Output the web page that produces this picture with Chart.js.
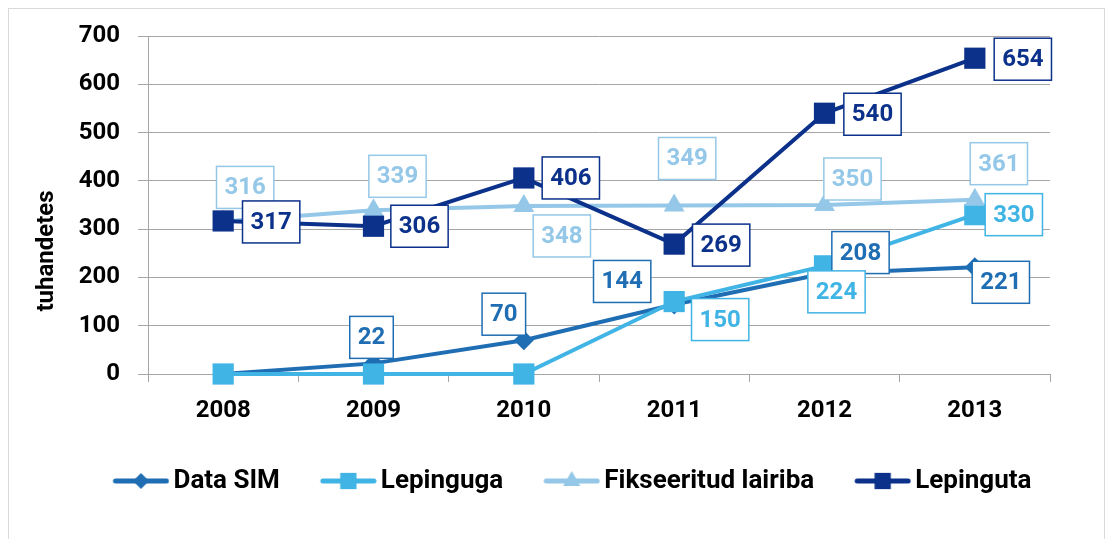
<!DOCTYPE html>
<html>
<head>
<meta charset="utf-8">
<script src="https://cdn.jsdelivr.net/npm/chart.js@4.4.0/dist/chart.umd.min.js"></script>
<style>
  html, body { margin: 0; padding: 0; background: #fff; }
  #frame { position: absolute; left: 8px; top: 8px; width: 1097px; height: 545px; border: 1px solid #d9d9d9; box-sizing: border-box; }
  #wrap { position: absolute; left: 0; top: 0; width: 1113px; height: 539px; }
</style>
</head>
<body>
<div id="frame"></div>
<div id="wrap"><canvas id="chart"></canvas></div>
<script>
// data (thousands)
const years = ["2008", "2009", "2010", "2011", "2012", "2013"];
const dataSim = [0, 22, 70, 144, 208, 221];
const lepinguga = [0, 0, 0, 150, 224, 330];
const fikseeritud = [316, 339, 348, 349, 350, 361];
const lepinguta = [317, 306, 406, 269, 540, 654];
const seriesNames = ["Data SIM", "Lepinguga", "Fikseeritud lairiba", "Lepinguta"];
const yMin = 0, yMax = 700, yStep = 100;

// where each value box sits relative to its point (px), null = no box
const simLabelPos = [null, [-2, -26], [-20, -26], [-52, -23], [36, -21], [26, 15]];
const lepingugaLabelPos = [null, null, null, [46, 18], [12, 26], [39, 0]];
const fiksLabelPos = [[22, -34], [24, -34], [38, 30], [13, -47], [28, -26], [24, -36]];
const lepingutaLabelPos = [[48, 1], [46, 0], [47, 0], [47, 1], [48, 1], [48, 1]];

const colors = ["#1f6db3", "#3fb4e5", "#95c8e8", "#0b318a"];
const FONT = "Roboto, 'Liberation Sans', sans-serif";

function makeIcon(color, style, radius) {
  const c = document.createElement("canvas");
  c.width = 64;
  c.height = 24;
  const ctx = c.getContext("2d");
  ctx.strokeStyle = color;
  ctx.lineWidth = 5;
  ctx.lineCap = "round";
  ctx.beginPath();
  ctx.moveTo(10, 12);
  ctx.lineTo(61, 12);
  ctx.stroke();
  ctx.fillStyle = color;
  Chart.helpers.drawPoint(ctx, { pointStyle: style, radius: radius, rotation: 0, borderWidth: 0 }, 35.5, 12);
  return c;
}

const datasets = [
  { label: seriesNames[0], data: dataSim, pointStyle: "rectRot", pointRadius: 10, order: 4, labelPos: simLabelPos, icon: ["rectRot", 8] },
  { label: seriesNames[1], data: lepinguga, pointStyle: "rect", pointRadius: 15, order: 3, labelPos: lepingugaLabelPos, icon: ["rect", 11.5] },
  { label: seriesNames[2], data: fikseeritud, pointStyle: "triangle", pointRadius: 12, order: 2, labelPos: fiksLabelPos, icon: ["triangle", 10] },
  { label: seriesNames[3], data: lepinguta, pointStyle: "rect", pointRadius: 15, order: 1, labelPos: lepingutaLabelPos, icon: ["rect", 11.5] },
].map((d, i) => Object.assign(d, {
  borderColor: colors[i],
  backgroundColor: colors[i],
  pointBackgroundColor: colors[i],
  pointBorderColor: colors[i],
  pointBorderWidth: 0,
  pointHoverRadius: d.pointRadius,
  borderWidth: 4,
  tension: 0,
  clip: false,
}));

const valueBoxes = {
  id: "valueBoxes",
  afterDatasetsDraw(chart) {
    const ctx = chart.ctx;
    ctx.save();
    ctx.font = "bold 24px " + FONT;
    ctx.textAlign = "center";
    ctx.textBaseline = "middle";
    chart.data.datasets.forEach((ds, di) => {
      const meta = chart.getDatasetMeta(di);
      meta.data.forEach((pt, i) => {
        const pos = ds.labelPos[i];
        if (!pos) return;
        const txt = String(ds.data[i]);
        const w = ctx.measureText(txt).width + 16;
        const h = 42;
        const cx = pt.x + pos[0];
        const cy = pt.y + pos[1];
        ctx.fillStyle = "#fff";
        ctx.fillRect(cx - w / 2, cy - h / 2, w, h);
        ctx.strokeStyle = ds.borderColor;
        ctx.lineWidth = 1.5;
        ctx.strokeRect(cx - w / 2, cy - h / 2, w, h);
        ctx.fillStyle = ds.borderColor;
        ctx.fillText(txt, cx, cy + 1);
      });
    });
    ctx.restore();
  },
  afterDraw(chart) {
    // y axis title, placed like the original (below the plot centre)
    const ctx = chart.ctx;
    ctx.save();
    ctx.translate(47, 251);
    ctx.rotate(-Math.PI / 2);
    ctx.font = "bold 24px " + FONT;
    ctx.fillStyle = "#000";
    ctx.textAlign = "center";
    ctx.textBaseline = "middle";
    ctx.fillText("tuhandetes", 0, 0);
    ctx.restore();
  },
};

const legendShift = {
  id: "legendShift",
  afterLayout(chart) {
    chart.legend.left += 48;
    chart.legend.right += 48;
  },
};

new Chart(document.getElementById("chart"), {
  type: "line",
  data: { labels: years, datasets: datasets },
  plugins: [valueBoxes, legendShift],
  options: {
    responsive: true,
    maintainAspectRatio: false,
    animation: false,
    layout: { padding: { top: 36, right: 63, left: 0, bottom: 35 } },
    plugins: {
      tooltip: { enabled: false },
      legend: {
        position: "bottom",
        labels: {
          usePointStyle: true,
          pointStyleWidth: 46,
          padding: 42,
          color: "#000",
          font: { family: FONT, size: 26, weight: "bold" },
          generateLabels(chart) {
            return chart.data.datasets.map((ds, i) => ({
              text: ds.label,
              fontColor: "#000",
              pointStyle: makeIcon(ds.borderColor, ds.icon[0], ds.icon[1]),
              fillStyle: ds.borderColor,
              strokeStyle: ds.borderColor,
              lineWidth: 0,
              hidden: false,
              datasetIndex: i,
            }));
          },
        },
      },
    },
    scales: {
      x: {
        offset: true,
        afterFit(scale) { scale.height = 52; },
        grid: { offset: true, drawOnChartArea: false, drawTicks: true, tickLength: 8, color: "#a6a6a6", lineWidth: 1 },
        border: { display: true, color: "#a6a6a6", width: 1 },
        ticks: { color: "#000", padding: 15, font: { family: FONT, size: 24, weight: "bold" } },
      },
      y: {
        min: yMin,
        max: yMax,
        afterFit(scale) { scale.width = 148; },
        grid: { color: "#a6a6a6", lineWidth: 1, drawTicks: true, tickLength: 10 },
        border: { display: true, color: "#a6a6a6", width: 1 },
        ticks: { stepSize: yStep, color: "#000", padding: 18, font: { family: FONT, size: 24, weight: "bold" } },
      },
    },
  },
});
</script>
</body>
</html>
